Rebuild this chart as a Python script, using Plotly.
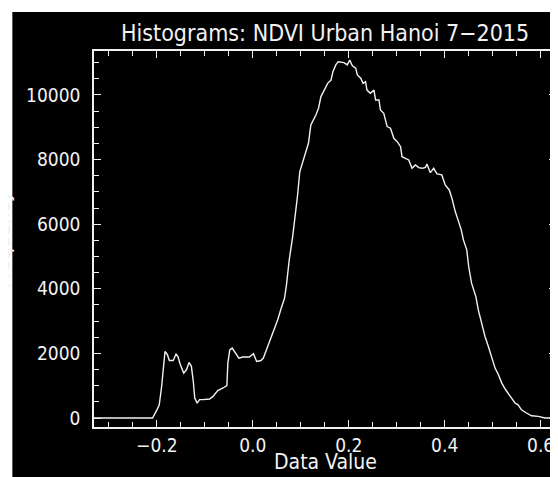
import plotly.graph_objects as go

# Data (NDVI value, pixel frequency)
ndvi = [-0.331, -0.209, -0.2004, -0.195, -0.190, -0.187, -0.183, -0.178, -0.174, -0.166,
        -0.160, -0.156, -0.151, -0.144, -0.138, -0.133, -0.128, -0.124, -0.121, -0.116,
        -0.111, -0.104, -0.090, -0.083, -0.073, -0.062, -0.054, -0.052, -0.048, -0.043,
        -0.036, -0.029, -0.021, -0.007, 0.0015, 0.008, 0.017, 0.022, 0.031, 0.0415,
        0.052, 0.059, 0.066, 0.070, 0.076, 0.083, 0.0865, 0.093, 0.098, 0.107,
        0.116, 0.121, 0.1265, 0.1315, 0.137, 0.142, 0.149, 0.156, 0.163, 0.167,
        0.173, 0.178, 0.190, 0.197, 0.202, 0.2075, 0.2145, 0.218, 0.225, 0.230,
        0.235, 0.238, 0.245, 0.2525, 0.256, 0.263, 0.266, 0.273, 0.280, 0.287,
        0.294, 0.301, 0.308, 0.311, 0.318, 0.325, 0.332, 0.339, 0.346, 0.353,
        0.360, 0.363, 0.370, 0.377, 0.384, 0.394, 0.401, 0.4095, 0.415, 0.422,
        0.429, 0.4345, 0.439, 0.446, 0.450, 0.456, 0.465, 0.470, 0.477, 0.484,
        0.491, 0.4995, 0.505, 0.512, 0.519, 0.527, 0.536, 0.5465, 0.553, 0.560,
        0.5705, 0.581, 0.595, 0.609, 0.632]
frequency = [0, 0, 235, 410, 980, 1500, 2060, 1960, 1780, 1780,
             1980, 1900, 1650, 1390, 1500, 1720, 1600, 1130, 620, 460,
             570, 570, 590, 670, 850, 930, 1000, 1700, 2110, 2165,
             2010, 1855, 1890, 1890, 1990, 1750, 1780, 1855, 2215, 2630,
             3040, 3390, 3700, 4100, 4900, 5610, 6030, 6850, 7630, 8090,
             8505, 9070, 9230, 9380, 9590, 9950, 10150, 10360, 10460, 10720,
             10930, 11030, 11000, 10930, 11080, 10900, 10830, 10620, 10520, 10360,
             10410, 10150, 10050, 10150, 9845, 9845, 9535, 9430, 9020, 8970,
             8660, 8555, 8400, 8090, 8040, 7990, 7730, 7835, 7750, 7730,
             7760, 7865, 7595, 7730, 7555, 7525, 7215, 7060, 6805, 6390,
             6080, 5825, 5515, 5205, 4690, 4175, 3760, 3350, 2935, 2525,
             2215, 1800, 1545, 1340, 1080, 875, 670, 465, 410, 255,
             155, 70, 50, 0, 0]

x_tickvals = [-0.2, 0.0, 0.2, 0.4, 0.6]
x_ticktext = ["\u22120.2", "0.0", "0.2", "0.4", "0.6"]
y_tickvals = [0, 2000, 4000, 6000, 8000, 10000]
y_ticktext = ["0", "2000", "4000", "6000", "8000", "10000"]

title_text = "Histograms: NDVI Urban Hanoi 7\u22122015"
x_title = "Data Value"
y_title = "Frequency"

FONT = "DejaVu Sans Condensed, DejaVu Sans, sans-serif"
W, H = 558, 477
L, R, T, B = 86, 8, 43, 58
pw, ph = W - L - R, H - T - B
FG = "#f2f2f2"

fig = go.Figure()
fig.add_trace(go.Scatter(x=ndvi, y=frequency, mode="lines",
                         line=dict(color=FG, width=1.4), showlegend=False))

axis_common = dict(showgrid=False, zeroline=False, showline=True, linecolor=FG,
                   linewidth=1.5, mirror="ticks", ticks="inside", ticklen=7,
                   tickcolor=FG, tickwidth=1.3,
                   tickfont=dict(family=FONT, size=19, color=FG))

fig.update_xaxes(range=[-0.331, 0.632], tickmode="array", tickvals=x_tickvals,
                 ticktext=x_ticktext, ticklabelstandoff=0,
                 minor=dict(dtick=0.05, ticks="inside", ticklen=5,
                            tickcolor=FG, tickwidth=1.3),
                 **axis_common)
fig.update_yaxes(range=[-278, 11361], tickmode="array", tickvals=y_tickvals,
                 ticktext=y_ticktext, ticklabelstandoff=8,
                 minor=dict(dtick=500, ticks="inside", ticklen=5,
                            tickcolor=FG, tickwidth=1.3),
                 **axis_common)

# black canvas, leaving a thin white border at top and left
fig.add_shape(type="rect", xref="paper", yref="paper", layer="below",
              x0=(4 - L) / pw, x1=1.0 + (R + 2) / pw,
              y0=-(B + 2) / ph, y1=1 + (T - 4) / ph,
              fillcolor="black", line=dict(width=0))

fig.add_annotation(text=title_text, xref="paper", yref="paper",
                   x=0.5, y=1 + (T - 25) / ph, xanchor="center", yanchor="middle",
                   showarrow=False, font=dict(family=FONT, size=23, color=FG))
fig.add_annotation(text=x_title, xref="paper", yref="paper",
                   x=(318 - L) / pw, y=-(454 - (H - B)) / ph, xanchor="center",
                   yanchor="middle", showarrow=False,
                   font=dict(family=FONT, size=21, color=FG))
fig.add_annotation(text=y_title, xref="paper", yref="paper", textangle=-90,
                   x=(8 - L) / pw, y=((H - B) - 232) / ph, xanchor="right",
                   yanchor="middle", showarrow=False, borderpad=0,
                   font=dict(family=FONT, size=21, color=FG))

fig.update_layout(width=W, height=H, margin=dict(l=L, r=R, t=T, b=B),
                  paper_bgcolor="white", plot_bgcolor="black")

fig.write_html("out.html")
